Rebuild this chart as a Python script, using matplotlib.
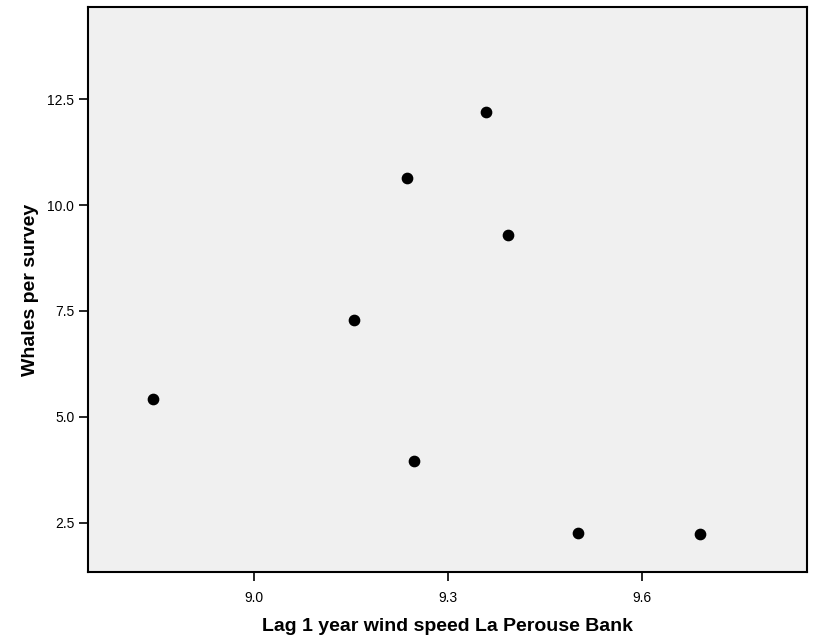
import matplotlib
matplotlib.use("Agg")
import matplotlib.pyplot as plt

# wind speed (lag 1 year) vs whales per survey
wind_speed = [8.844, 9.155, 9.237, 9.358, 9.392, 9.247, 9.501, 9.689]
whales = [5.42, 7.28, 10.65, 12.20, 9.30, 3.96, 2.25, 2.24]

x_ticks = [9.0, 9.3, 9.6]
y_ticks = [2.5, 5.0, 7.5, 10.0, 12.5]

plt.rcParams['font.family'] = ['Liberation Sans', 'DejaVu Sans']

fig = plt.figure(figsize=(8.16, 6.39), dpi=100)
ax = fig.add_axes([0.1082, 0.1049, 0.8802, 0.8837])
ax.set_facecolor('#f0f0f0')

ax.scatter(wind_speed, whales, s=55, color='black', zorder=3)

ax.set_xlim(8.744, 9.854)
ax.set_ylim(1.336, 14.673)
ax.set_xticks(x_ticks)
ax.set_xticklabels([f'{v:.1f}' for v in x_ticks])
ax.set_yticks(y_ticks)
ax.set_yticklabels([f'{v:.1f}' for v in y_ticks])
ax.tick_params(axis='x', length=6.5, width=1.2, labelsize=10, pad=7.5, color='black')
ax.tick_params(axis='y', length=6.5, width=1.2, labelsize=10, pad=3.6, color='black')

for s in ax.spines.values():
    s.set_linewidth(1.5)
    s.set_color('black')

ax.set_xlabel('Lag 1 year wind speed La Perouse Bank', fontsize=14, fontweight='bold', labelpad=9)
ax.set_ylabel('Whales per survey', fontsize=14, fontweight='bold', labelpad=6)

fig.savefig('out.png', dpi=100)
